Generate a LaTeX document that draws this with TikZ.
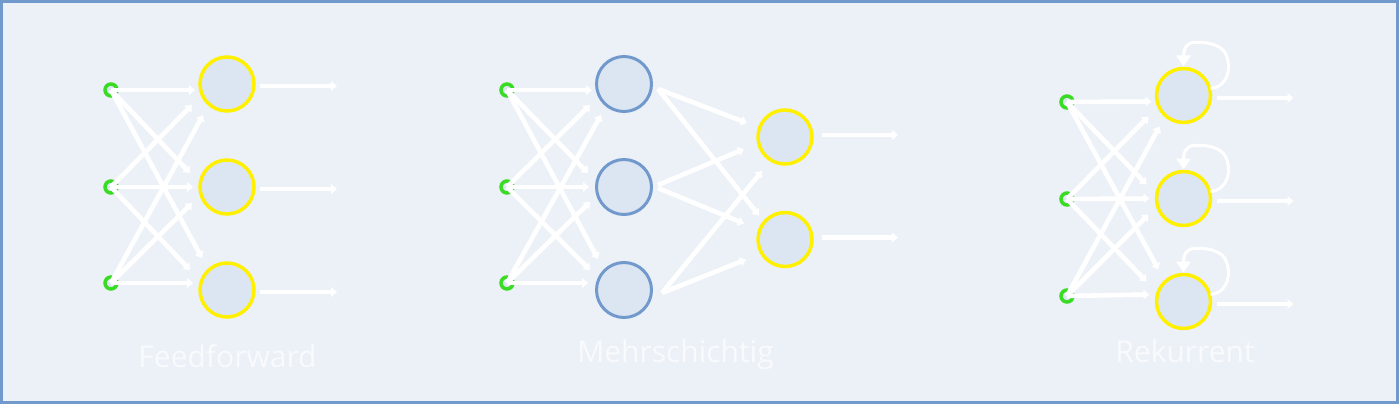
\documentclass[tikz,border=0pt]{standalone}
\usepackage{fontspec}
\setmainfont{Open Sans}
\usetikzlibrary{arrows.meta,calc}
\definecolor{bgc}{HTML}{ECF1F8}
\definecolor{bordc}{HTML}{7199CC}
\definecolor{fillc}{HTML}{DCE6F2}
\definecolor{yel}{HTML}{FFF000}
\definecolor{grn}{HTML}{3ADB24}
\definecolor{blu}{HTML}{7199CC}
\tikzset{
  inp/.style={circle,draw=grn,fill=fillc,line width=3.5pt,minimum size=12pt,inner sep=0pt},
  ycirc/.style={circle,draw=yel,fill=fillc,line width=3.5pt,minimum size=54pt,inner sep=0pt},
  bcirc/.style={circle,draw=blu,fill=fillc,line width=3pt,minimum size=55pt,inner sep=0pt},
  conn/.style={draw=white,line width=4.6pt,-{Triangle[length=6pt,width=9.5pt]}},
  loopc/.style={draw=white,line width=3pt,-{Triangle[length=11pt,width=14pt]}},
  lbl/.style={anchor=base,text=white,text opacity=0.65,font=\fontsize{30}{33}\selectfont},
}
\begin{document}
\begin{tikzpicture}[x=1pt,y=-1pt]
\useasboundingbox (0,0) rectangle (1399,404);
\fill[bgc] (0,0) rectangle (1399,404);
\draw[bordc,line width=3pt] (1.5,1.5) rectangle (1397.5,402.5);

% ---------- Feedforward ----------
\node[inp] (fi1) at (111,90) {};
\node[inp] (fi2) at (111,187) {};
\node[inp] (fi3) at (111,283) {};
\node[ycirc] (fo1) at (227,84) {};
\node[ycirc] (fo2) at (227,187) {};
\node[ycirc] (fo3) at (227,290) {};
\foreach \i/\j/\dx/\dy in {1/1/-32/6,1/2/-37/-14,1/3/-25/-32,2/1/-35/21,2/2/-34/0,2/3/-37/-20,3/1/-24/31,3/2/-35/16,3/3/-34/-7}
  \draw[conn] (fi\i.center) -- ($(fo\j)+(\dx,\dy)$);
\foreach \j in {1,2,3}
  \draw[conn] ($(fo\j)+(33,2)$) -- ($(fo\j)+(110,2)$);
\node[lbl] (lf) at (227.5,367) {Feedforward};

% ---------- Mehrschichtig ----------
\node[inp] (mi1) at (507,90) {};
\node[inp] (mi2) at (507,187) {};
\node[inp] (mi3) at (507,283) {};
\node[bcirc] (mh1) at (624,84) {};
\node[bcirc] (mh2) at (624,187) {};
\node[bcirc] (mh3) at (624,290) {};
\node[ycirc] (mo1) at (785,137) {};
\node[ycirc] (mo2) at (785,239.5) {};
\foreach \i/\j/\dx/\dy in {1/1/-32/6,1/2/-36/-14,1/3/-26/-31,2/1/-34/21,2/2/-35/0,2/3/-34/-20,3/1/-23/31,3/2/-34/15,3/3/-36/-7}
  \draw[conn] (mi\i.center) -- ($(mh\j)+(\dx,\dy)$);
\foreach \i/\sx/\sy/\j/\dx/\dy in {1/34/5/1/-38/-14,1/34/5/2/-26/-24,2/34/-2/1/-41/12,2/34/1/2/-41/-16,3/38/3/1/-23/34,3/38/3/2/-39/20}
  \draw[conn] ($(mh\i)+(\sx,\sy)$) -- ($(mo\j)+(\dx,\dy)$);
\foreach \j in {1,2}
  \draw[conn] ($(mo\j)+(37,-2)$) -- ($(mo\j)+(113,-2)$);
\node[lbl] (lm) at (675.5,362) {Mehrschichtig};

% ---------- Rekurrent ----------
\node[inp] (ri1) at (1067,102) {};
\node[inp] (ri2) at (1067,199) {};
\node[inp] (ri3) at (1067,296) {};
\node[ycirc] (ro1) at (1183.5,95.5) {};
\node[ycirc] (ro2) at (1183.5,198.5) {};
\node[ycirc] (ro3) at (1183.5,301.5) {};
\foreach \i/\j/\dx/\dy in {1/1/-32/6,1/2/-37/-14,1/3/-25/-32,2/1/-35/21,2/2/-34/0,2/3/-37/-20,3/1/-24/31,3/2/-35/16,3/3/-34/-7}
  \draw[conn] (ri\i.center) -- ($(ro\j)+(\dx,\dy)$);
\foreach \j in {1,2,3} {
  \draw[conn] ($(ro\j)+(33.5,2.5)$) -- ($(ro\j)+(110,2.5)$);
  \draw[loopc] ($(ro\j)+(27,-7)$) .. controls ($(ro\j)+(46,-9)$) and ($(ro\j)+(48,-30)$) .. ($(ro\j)+(42,-42)$)
     .. controls ($(ro\j)+(37,-52)$) and ($(ro\j)+(20,-54)$) .. ($(ro\j)+(10,-53)$)
     .. controls ($(ro\j)+(2,-52)$) and ($(ro\j)+(0,-46)$) .. ($(ro\j)+(0,-29)$);
}
\node[lbl] (lr) at (1185,362) {Rekurrent};
\end{tikzpicture}
\end{document}
